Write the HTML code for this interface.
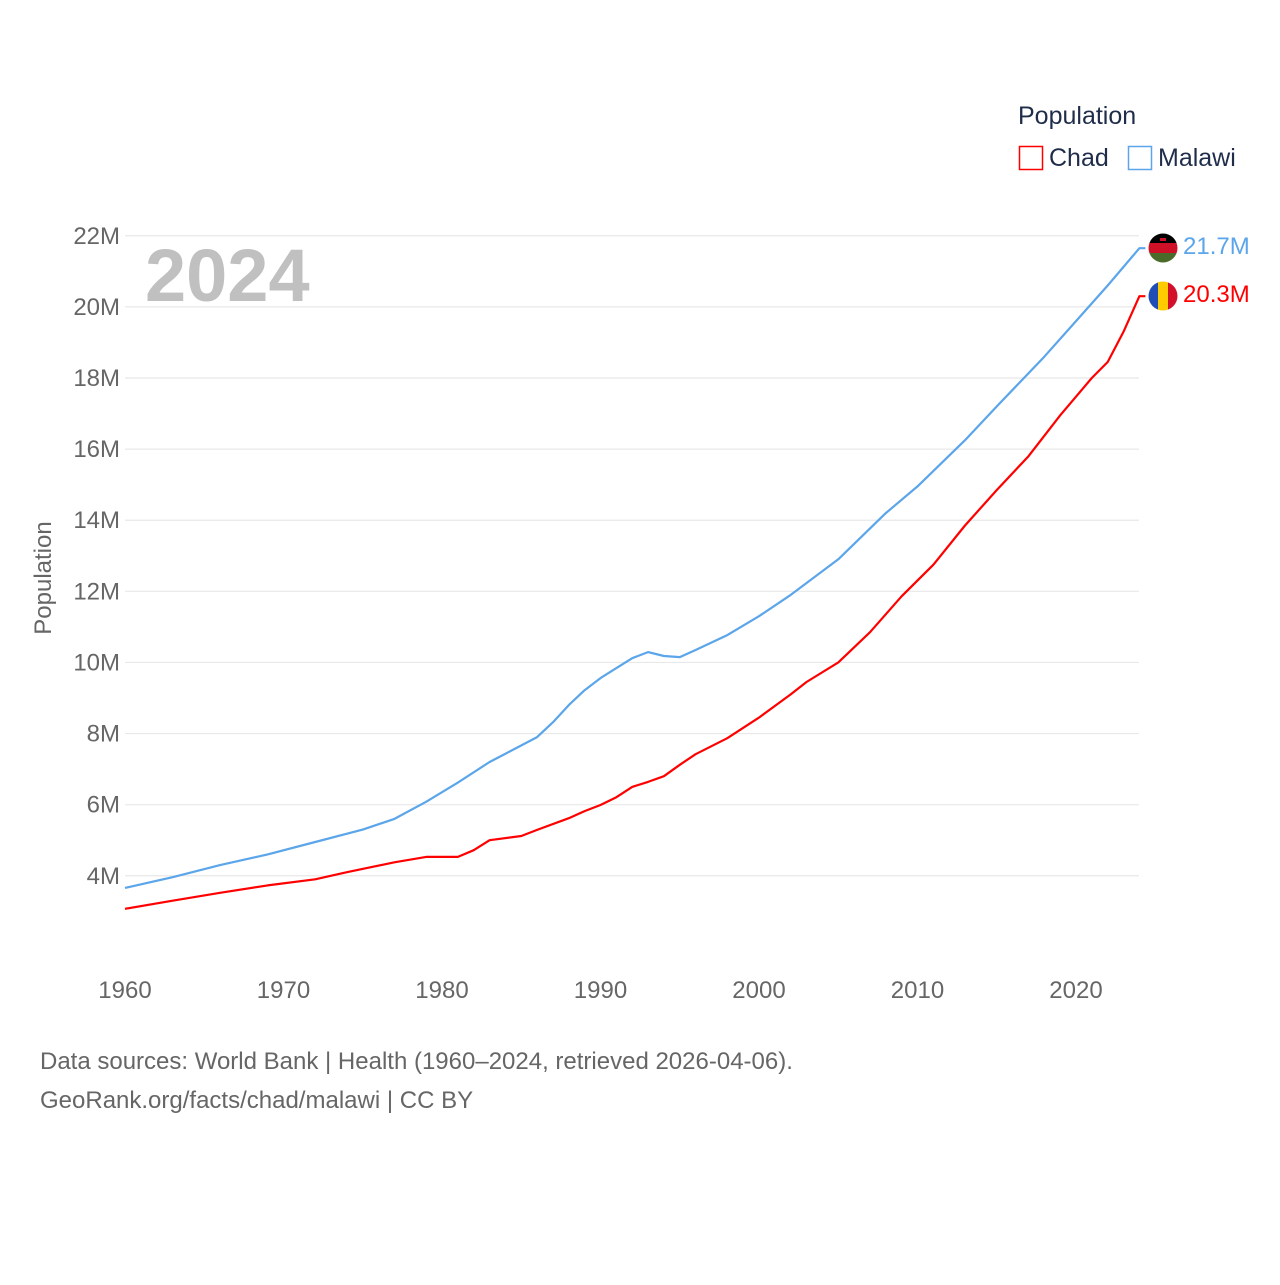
<!DOCTYPE html>
<html><head><meta charset="utf-8">
<style>
body{margin:0;background:#fff;font-family:"Liberation Sans",sans-serif;}
svg text{font-family:"Liberation Sans",sans-serif;}
</style></head>
<body>
<svg id="chart" width="1280" height="1280" xmlns="http://www.w3.org/2000/svg">
  <text x="1018" y="124" font-size="25" fill="#1f2d4a">Population</text>
  <g>
    <rect x="1019.5" y="146.5" width="23" height="23" fill="none" stroke="#ff0000" stroke-width="1.5"/>
    <text x="1049" y="166" font-size="25" fill="#1f2d4a">Chad</text>
  </g>
  <g>
    <rect x="1128.5" y="146.5" width="23" height="23" fill="none" stroke="#5ba5ea" stroke-width="1.5"/>
    <text x="1158" y="166" font-size="25" fill="#1f2d4a">Malawi</text>
  </g>
  <g id="grid"></g>
  <g id="yticks"></g>
  <g id="xticks"></g>
  <text x="145" y="301" font-size="74" font-weight="bold" fill="#c0c0c0">2024</text>
  <text transform="translate(51,578) rotate(-90)" text-anchor="middle" font-size="24" fill="#666">Population</text>
  <g id="series"></g>
  <g>
    <clipPath id="cm"><circle cx="1163" cy="248" r="14.5"/></clipPath>
    <g clip-path="url(#cm)">
      <rect x="1148" y="233" width="30" height="10" fill="#000"/>
      <rect x="1148" y="243" width="30" height="10" fill="#ce1126"/>
      <rect x="1148" y="253" width="30" height="10" fill="#4a6b2a"/>
      <rect x="1160" y="238" width="6" height="3" fill="#ce1126"/>
    </g>
  </g>
  <g>
    <clipPath id="cc"><circle cx="1163" cy="296" r="14.5"/></clipPath>
    <g clip-path="url(#cc)">
      <rect x="1148" y="281" width="10" height="30" fill="#1f4fb5"/>
      <rect x="1158" y="281" width="10" height="30" fill="#fecb00"/>
      <rect x="1168" y="281" width="10" height="30" fill="#d2102c"/>
    </g>
  </g>
  <text x="1183" y="254" font-size="24" fill="#5ba5ea">21.7M</text>
  <text x="1183" y="302" font-size="24" fill="#ff0000">20.3M</text>
  <text x="40" y="1069" font-size="24" fill="#666">Data sources: World Bank | Health (1960–2024, retrieved 2026-04-06).</text>
  <text x="40" y="1108" font-size="24" fill="#666">GeoRank.org/facts/chad/malawi | CC BY</text>
</svg>
<script>
const yTicks=[4,6,8,10,12,14,16,18,20,22];
const xTicks=[1960,1970,1980,1990,2000,2010,2020];
const malawiYears=[1960,1963,1966,1969,1972,1975,1977,1979,1981,1983,1986,1987,1988,1989,1990,1991,1992,1993,1994,1995,1996,1998,2000,2002,2005,2008,2010,2013,2015,2018,2020,2022,2024];
const malawiVals=[3.66,3.96,4.3,4.6,4.95,5.3,5.6,6.08,6.62,7.2,7.9,8.32,8.8,9.22,9.56,9.84,10.12,10.29,10.18,10.15,10.35,10.77,11.3,11.9,12.9,14.2,14.95,16.25,17.2,18.6,19.6,20.6,21.65];
const chadYears=[1960,1963,1966,1969,1972,1974,1977,1979,1981,1982,1983,1985,1986,1988,1989,1990,1991,1992,1993,1994,1995,1996,1998,2000,2002,2003,2005,2007,2009,2011,2013,2015,2017,2019,2021,2022,2023,2024];
const chadVals=[3.07,3.3,3.52,3.73,3.9,4.1,4.38,4.53,4.53,4.72,5.0,5.12,5.29,5.62,5.82,5.99,6.21,6.5,6.64,6.8,7.12,7.42,7.87,8.45,9.1,9.45,10.0,10.85,11.86,12.75,13.85,14.85,15.8,16.95,18.0,18.45,19.3,20.3];
const NS="http://www.w3.org/2000/svg";
const X=y=>125+(y-1960)*951/60;
const Y=v=>1018-v*35.556;
const grid=document.getElementById('grid'),yt=document.getElementById('yticks'),xt=document.getElementById('xticks');
yTicks.forEach(t=>{
  const l=document.createElementNS(NS,'line');
  l.setAttribute('x1',125);l.setAttribute('x2',1139);l.setAttribute('y1',Y(t));l.setAttribute('y2',Y(t));
  l.setAttribute('stroke','#e8e8e8');l.setAttribute('stroke-width','1.2');
  
  
  grid.appendChild(l);
  const tx=document.createElementNS(NS,'text');
  tx.setAttribute('x',120);tx.setAttribute('y',Y(t)+8);tx.setAttribute('text-anchor','end');
  tx.setAttribute('font-size','24');tx.setAttribute('fill','#666');
  tx.textContent=t+'M';
  
  
  yt.appendChild(tx);
});
xTicks.forEach(t=>{
  const tx=document.createElementNS(NS,'text');
  tx.setAttribute('x',X(t));tx.setAttribute('y',998);tx.setAttribute('text-anchor','middle');
  tx.setAttribute('font-size','24');tx.setAttribute('fill','#666');
  tx.textContent=t;
  
  
  xt.appendChild(tx);
});
const series=document.getElementById('series');
function draw(years,vals,color,name){
  let d=years.map((y,i)=>(i?'L':'M')+X(y).toFixed(1)+','+Y(vals[i]).toFixed(1)).join(' ');
  d+=' L'+(X(years[years.length-1])+6).toFixed(1)+','+Y(vals[vals.length-1]).toFixed(1);
  const p=document.createElementNS(NS,'path');
  p.setAttribute('d',d);p.setAttribute('fill','none');p.setAttribute('stroke',color);
  p.setAttribute('stroke-width','2.2');p.setAttribute('stroke-linejoin','round');
  
  
  series.appendChild(p);
}
draw(malawiYears,malawiVals,'#5ba5ea','line-malawi');
draw(chadYears,chadVals,'#ff0000','line-chad');
</script>
</body></html>
